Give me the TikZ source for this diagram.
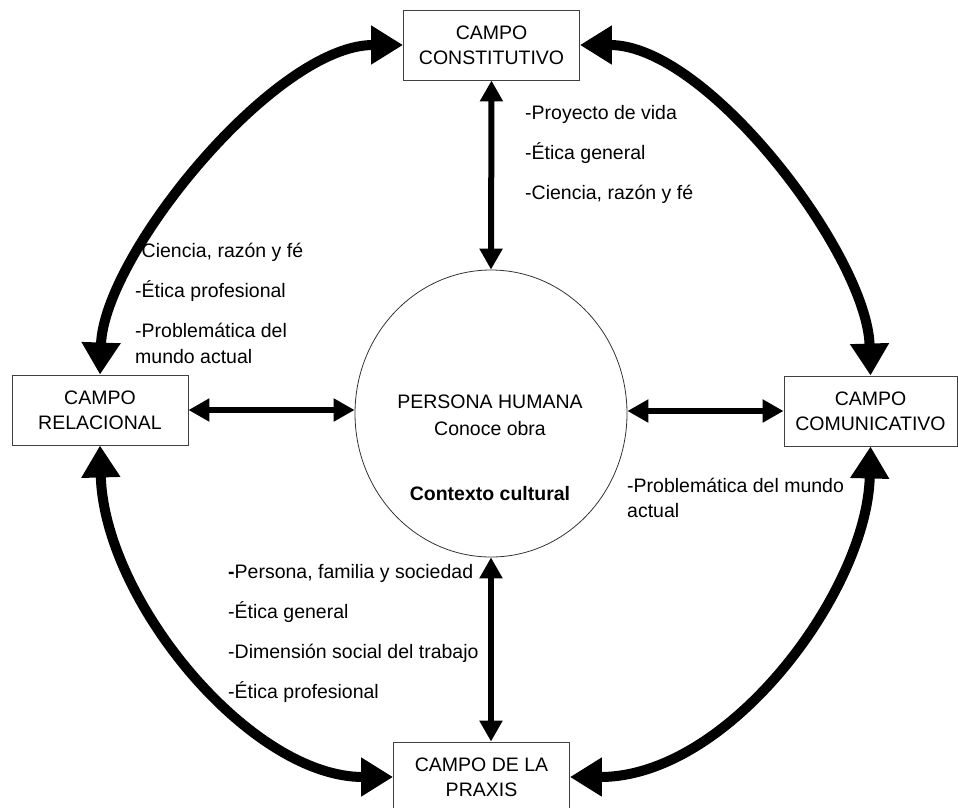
\documentclass[tikz,border=0pt]{standalone}
\usepackage{fontspec}
\setmainfont{Liberation Sans}
\usepackage{tikz}
\usetikzlibrary{arrows.meta}
\usetikzlibrary{shapes.geometric}

\begin{document}
\begin{tikzpicture}[x=1pt,y=-1pt,
    font=\fontsize{19.5pt}{25pt}\selectfont,
    campo/.style={draw=black!75,line width=0.9pt,minimum width=176pt,minimum height=70pt,inner sep=0pt,align=center},
    item/.style={anchor=base west,inner sep=0pt},
    bigarrow/.style={line width=10pt,{Triangle[length=32pt,width=37pt]}-{Triangle[length=32pt,width=37pt]}},
    midarrow/.style={line width=6pt,{Triangle[length=21pt,width=22pt]}-{Triangle[length=21pt,width=22pt]}}]
\useasboundingbox (0,0) rectangle (958,807);
\clip (0,0) rectangle (958,807);

   \node[campo] (cons) at (491.5,45) {CAMPO\\CONSTITUTIVO};
   \node[campo] (rel) at (100,410) {CAMPO\\RELACIONAL};
   \node[campo,minimum width=173pt] (com) at (870.5,411) {CAMPO\\COMUNICATIVO};
   \node[campo] (pra) at (481.5,777) {CAMPO DE LA\\PRAXIS};
   \node[draw=black!80,line width=0.8pt,ellipse,minimum width=272pt,minimum height=287pt] (per) at (491,413.5) {};

   \node[anchor=base] (ph) at (490,408) {PERSONA HUMANA};
   \node[anchor=base] (co) at (490,435) {Conoce obra};
   \node[anchor=base,font=\fontsize{19.5pt}{25pt}\selectfont\bfseries] (cc) at (490,500) {Contexto cultural};

   % temas de cada campo
   \node[item] (t1) at (525,119) {-Proyecto de vida};
   \node[item] (t2) at (525,159) {-Ética general};
   \node[item] (t3) at (525,199) {-Ciencia, razón y fé};
   \node[item] (r1) at (135,257) {-Ciencia, razón y fé};
   \node[item] (r2) at (135,297) {-Ética profesional};
   \node[item] (r3) at (135,337) {-Problemática del};
   \node[item] (r4) at (135,363) {mundo actual};
   \node[item] (m1) at (627,492) {-Problemática del mundo};
   \node[item] (m2) at (627,517) {actual};
   \node[item] (p1) at (228,578) {{\bfseries -}Persona, familia y sociedad};
   \node[item] (p2) at (228,618) {-Ética general};
   \node[item] (p3) at (228,658) {-Dimensión social del trabajo};
   \node[item] (p4) at (228,698) {-Ética profesional};

   \draw[midarrow] (cons.south) -- (per.north);
   \draw[midarrow] (per.south) -- (per.south |- pra.north);
   \draw[midarrow] (rel.east) -- (rel.east -| per.west);
   \draw[midarrow] (per.east |- com.west) -- (com.west);

   \draw[bigarrow] (cons.west) .. controls (275,45) and (104,255) .. (rel.north);
   \draw[bigarrow] (cons.east) .. controls (708,45) and (867,256) .. (com.north);
   \draw[bigarrow] (rel.south) .. controls (104,600) and (250,777) .. (pra.west);
   \draw[bigarrow] (com.south) .. controls (867,590) and (730,777) .. (pra.east);
\end{tikzpicture}
\end{document}
